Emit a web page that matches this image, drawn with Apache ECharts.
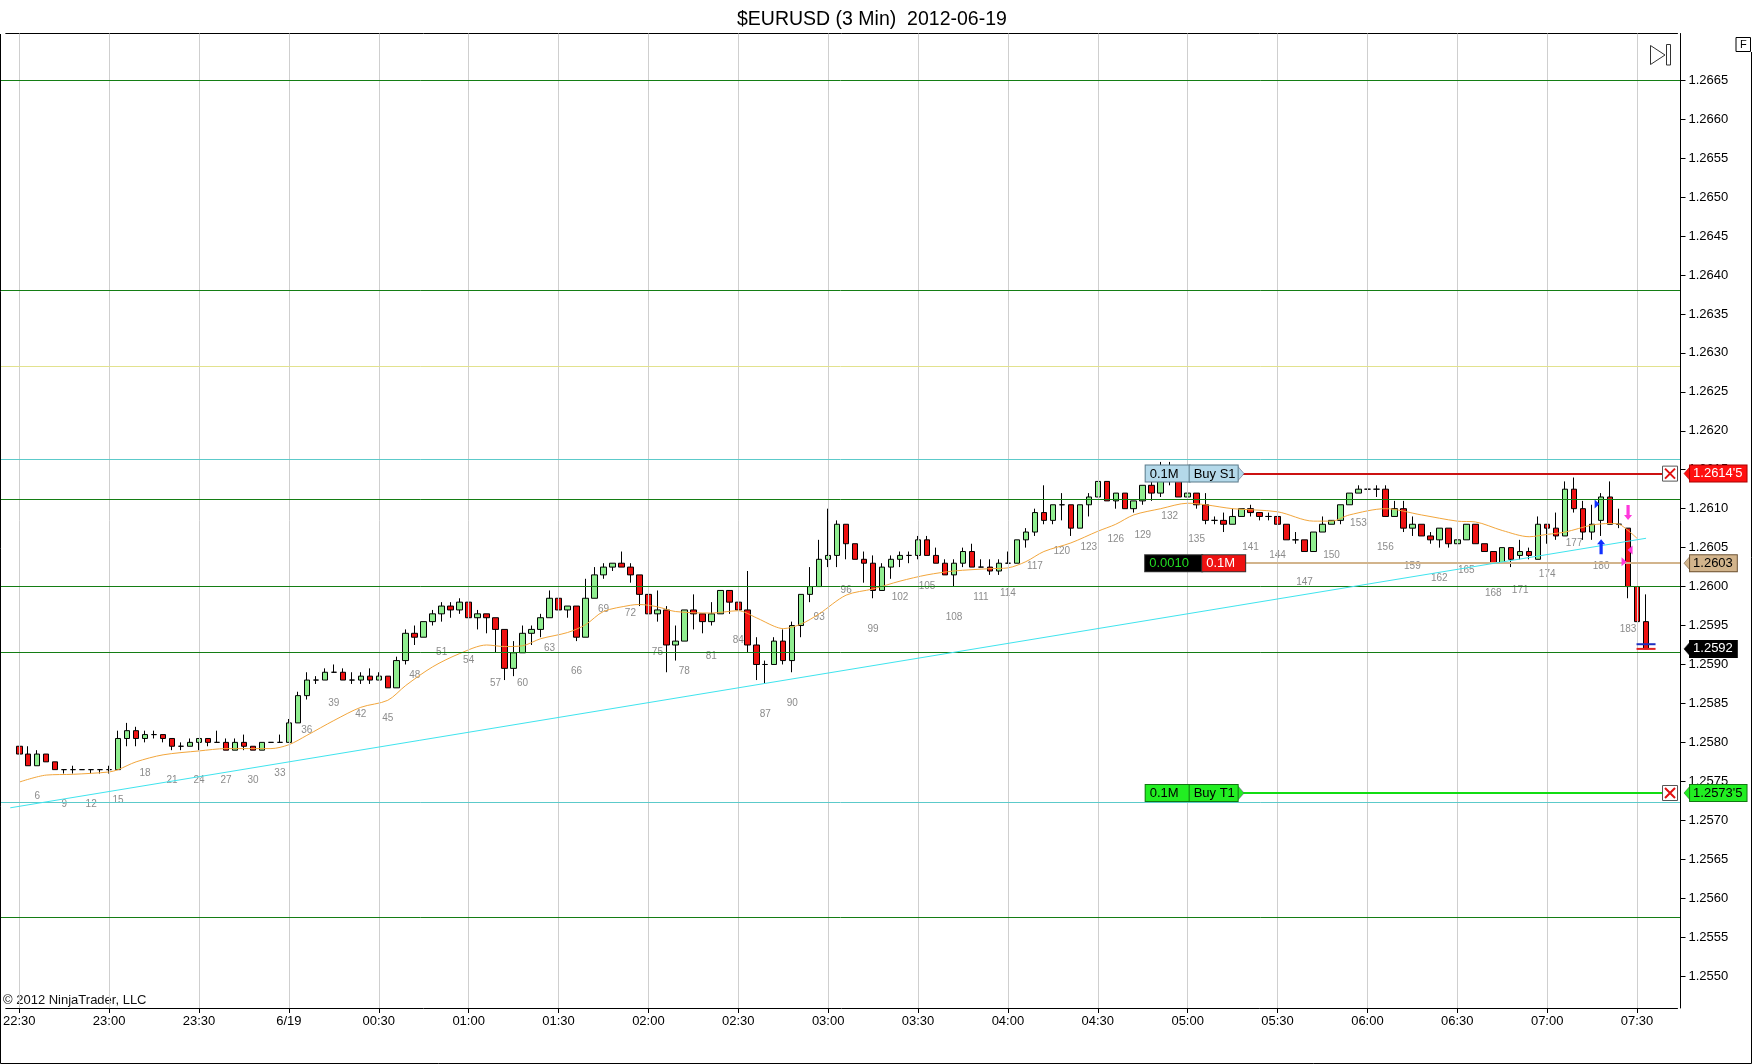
<!DOCTYPE html>
<html><head><meta charset="utf-8">
<script src="https://cdn.jsdelivr.net/npm/echarts@6/dist/echarts.min.js"></script>
<style>html,body{margin:0;padding:0;background:#fff}#c{width:1752px;height:1064px}</style>
</head><body><div id="c"></div>
<script>
// ---------- DATA ----------
const firstBarNumber = 4;          // bar number of the 22:30 candle
const slotStart = '22:27', slotCount = 186;   // 3-minute slots on the axis
const categories = [];
for (let k = 0; k < slotCount; k++) {
  const m = (22 * 60 + 27 + 3 * k) % 1440;
  categories.push(String(Math.floor(m / 60)).padStart(2, '0') + ':' + String(m % 60).padStart(2, '0'));
}
// OHLC for bars 22:30 ... 07:33
const opens = [1.25795,1.25785,1.2577,1.25785,1.25775,1.25765,1.25765,1.25765,1.25765,1.25765,
1.25765,1.25765,1.25805,1.25815,1.25805,1.2581,1.2581,1.25805,1.25795,1.25795,
1.258,1.25805,1.258,1.258,1.2579,1.258,1.25795,1.2579,1.258,1.258,
1.258,1.25825,1.2586,1.2588,1.2588,1.2589,1.2589,1.2588,1.2588,1.25885,
1.2588,1.25885,1.2587,1.25905,1.2594,1.25935,1.25955,1.25965,1.25975,1.2597,
1.2598,1.2596,1.25965,1.2596,1.25945,1.25895,1.25915,1.2594,1.25945,1.2596,
1.25985,1.2597,1.25975,1.25935,1.25985,1.26015,1.26025,1.2603,1.26025,1.26015,
1.2599,1.25965,1.2597,1.25925,1.2593,1.2597,1.25965,1.25955,1.25965,1.25995,
1.2598,1.2597,1.25925,1.259,1.259,1.2593,1.25905,1.2595,1.2599,1.26,
1.26035,1.2604,1.2608,1.26055,1.26035,1.2603,1.25995,1.26025,1.26035,1.2604,
1.2604,1.2606,1.2604,1.2603,1.26015,1.2603,1.26045,1.26025,1.26025,1.2602,
1.2603,1.2603,1.2606,1.2607,1.26095,1.26085,1.26105,1.26105,1.26075,1.26105,
1.26115,1.26135,1.2611,1.2612,1.261,1.2611,1.2613,1.2612,1.26135,1.2614,
1.26115,1.2612,1.26105,1.26085,1.26085,1.2608,1.2609,1.261,1.26095,1.2609,
1.2609,1.2608,1.2606,1.2606,1.26045,1.2607,1.2608,1.26085,1.26105,1.2612,
1.26125,1.26125,1.26125,1.2609,1.261,1.26075,1.2608,1.26065,1.2606,1.26075,
1.26055,1.2606,1.2608,1.26055,1.26045,1.2603,1.2605,1.2604,1.26045,1.26035,
1.2608,1.26075,1.26065,1.26125,1.261,1.2607,1.26085,1.26115,1.2608,1.26075,
1.26,1.25955];
const highs = [1.25795,1.25795,1.2579,1.25785,1.25775,1.25765,1.2577,1.25765,1.25765,1.25765,
1.2577,1.25815,1.25825,1.2582,1.25815,1.25815,1.2581,1.25805,1.258,1.25805,
1.25805,1.25805,1.25815,1.25805,1.25805,1.2581,1.25795,1.258,1.258,1.2581,
1.2583,1.25865,1.2589,1.25885,1.25895,1.259,1.25895,1.2589,1.2589,1.25895,
1.2589,1.25885,1.2591,1.25945,1.2595,1.25955,1.2597,1.2598,1.2598,1.25985,
1.2598,1.2597,1.25965,1.2596,1.25945,1.2593,1.2595,1.2595,1.25965,1.25995,
1.25985,1.25975,1.25975,1.2601,1.26025,1.2603,1.2603,1.26045,1.2603,1.26015,
1.2599,1.25995,1.25975,1.2595,1.2597,1.2599,1.25965,1.2598,1.25995,1.25995,
1.25985,1.2602,1.25935,1.25905,1.25935,1.25945,1.25955,1.2599,1.26025,1.2606,
1.261,1.26085,1.2608,1.26055,1.26045,1.2604,1.2603,1.2604,1.26045,1.26045,
1.26065,1.26065,1.2605,1.26035,1.26035,1.2605,1.26055,1.26035,1.26035,1.26035,
1.26045,1.2606,1.26075,1.261,1.2613,1.26105,1.2612,1.26105,1.26105,1.2612,
1.26135,1.26135,1.2612,1.2612,1.2611,1.2613,1.26135,1.2616,1.2616,1.2614,
1.2612,1.2612,1.2612,1.2609,1.26095,1.261,1.261,1.26105,1.26095,1.26095,
1.2609,1.2608,1.2607,1.2606,1.2607,1.2609,1.26085,1.26105,1.2612,1.2613,
1.26145,1.2613,1.2613,1.2611,1.2611,1.2609,1.2608,1.2607,1.26075,1.26075,
1.2606,1.2608,1.2608,1.26055,1.26045,1.2605,1.2605,1.2606,1.2605,1.2609,
1.2608,1.26095,1.26135,1.2614,1.2611,1.26105,1.2612,1.26135,1.261,1.26075,
1.26,1.2599];
const lows = [1.25775,1.2577,1.2577,1.25775,1.25765,1.2576,1.2576,1.25765,1.2576,1.2576,
1.2576,1.25765,1.25795,1.25795,1.258,1.25805,1.258,1.2579,1.2579,1.25795,
1.2579,1.25795,1.258,1.2579,1.2579,1.2579,1.2579,1.2579,1.258,1.258,
1.258,1.25825,1.25855,1.25875,1.2588,1.2589,1.2588,1.25875,1.25875,1.25875,
1.2588,1.2587,1.2587,1.259,1.25925,1.25935,1.2595,1.25955,1.2596,1.25965,
1.25945,1.25945,1.2594,1.25915,1.2588,1.25885,1.25915,1.25925,1.25935,1.2596,
1.25965,1.2596,1.2593,1.25935,1.25985,1.2601,1.2602,1.26025,1.26005,1.25975,
1.2596,1.25955,1.2589,1.25905,1.2593,1.25945,1.2594,1.2595,1.25965,1.25965,
1.2597,1.25915,1.2588,1.25875,1.259,1.259,1.2589,1.25935,1.2598,1.26,
1.26025,1.26025,1.26035,1.26035,1.26005,1.25985,1.25995,1.2601,1.26025,1.2603,
1.26035,1.2604,1.2603,1.26015,1.26,1.26025,1.26025,1.26025,1.26015,1.26015,
1.2603,1.2603,1.2605,1.26065,1.2608,1.2608,1.26085,1.26065,1.26075,1.2609,
1.26115,1.2611,1.261,1.261,1.26095,1.26105,1.2611,1.26115,1.2613,1.26115,
1.26115,1.261,1.2608,1.2608,1.2607,1.2608,1.2609,1.2609,1.26085,1.26085,
1.2608,1.2606,1.26055,1.26045,1.26045,1.2607,1.2608,1.2608,1.26105,1.2612,
1.26105,1.26115,1.2609,1.2609,1.2607,1.26065,1.26065,1.26055,1.2605,1.2605,
1.26045,1.2606,1.26055,1.26045,1.2603,1.2603,1.26025,1.26035,1.26035,1.26035,
1.26055,1.2606,1.26065,1.26095,1.2606,1.2606,1.26065,1.2608,1.26075,1.25985,
1.25955,1.2592];
const closes = [1.25785,1.2577,1.25785,1.25775,1.25765,1.25765,1.25765,1.25765,1.25765,1.25765,
1.25765,1.25805,1.25815,1.25805,1.2581,1.2581,1.25805,1.25795,1.25795,1.258,
1.25805,1.258,1.258,1.2579,1.258,1.25795,1.2579,1.258,1.258,1.258,
1.25825,1.2586,1.2588,1.2588,1.2589,1.2589,1.2588,1.2588,1.25885,1.2588,
1.25885,1.2587,1.25905,1.2594,1.25935,1.25955,1.25965,1.25975,1.2597,1.2598,
1.2596,1.25965,1.2596,1.25945,1.25895,1.25915,1.2594,1.25945,1.2596,1.25985,
1.2597,1.25975,1.25935,1.25985,1.26015,1.26025,1.2603,1.26025,1.26015,1.2599,
1.25965,1.2597,1.25925,1.2593,1.2597,1.25965,1.25955,1.25965,1.25995,1.2598,
1.2597,1.25925,1.259,1.259,1.2593,1.25905,1.2595,1.2599,1.26,1.26035,
1.2604,1.2608,1.26055,1.26035,1.2603,1.25995,1.26025,1.26035,1.2604,1.2604,
1.2606,1.2604,1.2603,1.26015,1.2603,1.26045,1.26025,1.26025,1.2602,1.2603,
1.2603,1.2606,1.2607,1.26095,1.26085,1.26105,1.26105,1.26075,1.26105,1.26115,
1.26135,1.2611,1.2612,1.261,1.2611,1.2613,1.2612,1.26135,1.2614,1.26115,
1.2612,1.26105,1.26085,1.26085,1.2608,1.2609,1.261,1.26095,1.2609,1.2609,
1.2608,1.2606,1.2606,1.26045,1.2607,1.2608,1.26085,1.26105,1.2612,1.26125,
1.26125,1.26125,1.2609,1.261,1.26075,1.2608,1.26065,1.2606,1.26075,1.26055,
1.2606,1.2608,1.26055,1.26045,1.2603,1.2605,1.26035,1.26045,1.2604,1.2608,
1.26075,1.26065,1.26125,1.261,1.2607,1.2608,1.26115,1.2608,1.2608,1.26,
1.25955,1.2592];
// moving average (orange), read at sample bars
const maTimes = ['22:30','22:39','22:48','23:00','23:03','23:09','23:18','23:30','23:39','23:54','00:00','00:06','00:15','00:24','00:33','00:39','00:48','00:57','01:06','01:12','01:18','01:24','01:33','01:39','01:45','01:54','01:57','02:03','02:09','02:21','02:30','02:36','02:42','02:45','02:51','02:57','03:06','03:15','03:24','03:33','03:42','03:54','04:00','04:06','04:12','04:21','04:30','04:36','04:42','04:51','05:00','05:06','05:15','05:30','05:42','05:48','05:54','06:06','06:18','06:30','06:36','06:45','06:54','07:00','07:06','07:15','07:21','07:24','07:27','07:30'];
const maValues = [1.25749,1.25758,1.25759,1.25762,1.25765,1.25775,1.25784,1.25789,1.25792,1.25792,1.25797,1.25809,1.25828,1.25845,1.25854,1.25873,1.25897,1.25914,1.25925,1.25923,1.25924,1.25933,1.25941,1.25951,1.25968,1.25976,1.25977,1.25974,1.25968,1.25966,1.25969,1.2596,1.25949,1.25946,1.25952,1.25965,1.25989,1.25997,1.26007,1.26015,1.2602,1.26023,1.26024,1.26032,1.26045,1.26056,1.26071,1.2608,1.26092,1.261,1.26107,1.26105,1.261,1.26096,1.26084,1.26084,1.26092,1.261,1.26092,1.26084,1.26083,1.26072,1.26064,1.26067,1.2607,1.26079,1.26081,1.2608,1.26072,1.26062];
// horizontal levels
const levelPrices = [1.2665, 1.2638, 1.26283, 1.26163, 1.26112, 1.2600, 1.25916, 1.25723, 1.25575];
const levelKinds  = ['pivot','pivot','mid','range','pivot','pivot','pivot','range','pivot'];
// trend line
const trendTimes = ['22:27', '07:33'];
const trendValues = [1.25716, 1.26062];
// orders
const orderPrices = [1.26145, 1.2603, 1.25735];
const orderTags = ["1.2614'5", '1.2603', "1.2573'5"];
const orderTextA = ['0.1M', '0.0010', '0.1M'];
const orderTextB = ['Buy S1', '0.1M', 'Buy T1'];
const lastPrice = 1.2592, lastTag = '1.2592';
const orderStart = '05:18', orderLabelAt = '05:00', orderEnd = '07:39', tagAt = '07:42';
// trade markers
const execPrices = [1.25926, 1.2592];
const arrowUp = ['07:18', 1.26051], arrowDown = ['07:27', 1.26095];
// y tick labels
const yTicks = [1.2550,1.2555,1.2560,1.2565,1.2570,1.2575,1.2580,1.2585,1.2590,1.2595,1.2600,1.2605,1.2610,1.2615,1.2620,1.2625,1.2630,1.2635,1.2640,1.2645,1.2650,1.2655,1.2660,1.2665];

// ---------- BUILD ----------
const FONT = "'Liberation Sans', Arial, sans-serif";
const PLOT_LEFT = 1, PLOT_RIGHT = 1680;   // frame edges (px) for full-width level lines
const isMajor = t => t.endsWith(':00') || t.endsWith(':30');
const candleData = categories.map((t, i) => {
  const j = i - 1;
  if (j < 0 || j >= opens.length) return ['-', '-', '-', '-'];
  return [opens[j], closes[j], lows[j], highs[j]];
});
const labelData = [];
opens.forEach((o, j) => { const n = j + firstBarNumber; if (n % 3 === 0) labelData.push([categories[j + 1], lows[j], n]); });
const maData = maTimes.map((t, i) => [t, maValues[i]]);
const levelColor = { pivot: '#147d14', mid: '#e2e28e', range: '#5ccaca' };

const gridMarks = categories.filter(isMajor).map(t => ({ xAxis: t, lineStyle: { color: '#cfcfcf', width: 1, type: 'solid' } }));
const lastCat = categories[categories.length - 1];
const levelMarks = levelPrices.map((p, i) => [
  { coord: [categories[0], p], x: PLOT_LEFT, lineStyle: { color: levelColor[levelKinds[i]], width: 1, type: 'solid' } },
  { coord: [lastCat, p], x: PLOT_RIGHT }
]);

const orderColors = ['#cc1111', '#d2b48c', '#11dd11'];
const orderLines = orderPrices.map((p, i) => [
  { coord: [orderStart, p], lineStyle: { color: orderColors[i], width: 2, type: 'solid' } },
  i === 1 ? { coord: [tagAt, p], x: PLOT_RIGHT } : { coord: [orderEnd, p] }
]);
const trendLine = [{ coord: [trendTimes[0], trendValues[0]], lineStyle: { color: '#3fe4ee', width: 1, type: 'solid' } },
                   { coord: [trendTimes[1], trendValues[1]] }];

function boxStyle(bg, fg, w, border) {
  return { backgroundColor: bg, color: fg, width: w, padding: [2, 4, 1, 4], borderColor: border, borderWidth: 1,
           fontSize: 13, fontFamily: FONT, align: 'left', lineHeight: 13 };
}
const boxCfg = [
  { a: boxStyle('#b4d9ea', '#000', 36, '#5a7a8a'), b: boxStyle('#b4d9ea', '#000', 40, '#5a7a8a'), dx: 4, arrow: '#b4d9ea' },
  { a: boxStyle('#000', '#22dd22', 49, '#333'), b: boxStyle('#ee1111', '#fff', 35, '#333'), dx: 7.5, arrow: null },
  { a: boxStyle('#22ee22', '#000', 36, '#117711'), b: boxStyle('#22ee22', '#000', 40, '#117711'), dx: 4, arrow: '#22ee22' }
];
const markPoints = [];
orderPrices.forEach((p, i) => {
  const c = boxCfg[i];
  markPoints.push({ coord: [orderLabelAt, p], symbol: 'rect', symbolSize: 0.1, itemStyle: { color: 'rgba(0,0,0,0)' },
    label: { show: true, position: 'inside', offset: [c.dx, 0], formatter: '{a|' + orderTextA[i] + '}{b|' + orderTextB[i] + '}', rich: { a: c.a, b: c.b } } });
  if (c.arrow) markPoints.push({ coord: [orderStart, p], symbol: 'triangle', symbolRotate: -90, symbolSize: [16, 7], symbolOffset: [-1, 0],
    itemStyle: { color: c.arrow, borderColor: '#557', borderWidth: 0.5 }, label: { show: false } });
  if (i !== 1) {
    markPoints.push({ coord: [orderEnd, p], symbol: 'rect', symbolSize: 15, symbolOffset: [6, 0], itemStyle: { color: '#fff', borderColor: '#555', borderWidth: 1 }, label: { show: false } });
    markPoints.push({ coord: [orderEnd, p], symbol: 'path://M0,0L10,10M10,0L0,10', symbolSize: 10, symbolOffset: [6, 0], itemStyle: { color: 'rgba(0,0,0,0)', borderColor: '#e01010', borderWidth: 2 }, label: { show: false } });
  }
});
const tagStyles = [
  { bg: '#ff1010', fg: '#fff', bd: '#aa0000' },
  { bg: '#d2b48c', fg: '#000', bd: '#6b5030' },
  { bg: '#22ee22', fg: '#000', bd: '#117711' }
];
function addTag(p, text, st) {
  markPoints.push({ coord: [tagAt, p], symbol: 'triangle', symbolRotate: 90, symbolSize: [16, 7], symbolOffset: [14.5, 0],
    itemStyle: { color: st.bg, borderColor: st.bd, borderWidth: 0.5 }, label: { show: false } });
  markPoints.push({ coord: [tagAt, p], symbol: 'rect', symbolSize: 0.1, itemStyle: { color: 'rgba(0,0,0,0)' },
    label: { show: true, position: 'right', distance: 17, formatter: text, backgroundColor: st.bg, color: st.fg, borderColor: st.bd, borderWidth: 1,
      padding: [2, 4, 1, 3], fontSize: 13, fontFamily: FONT, lineHeight: 13 } });
}
orderPrices.forEach((p, i) => addTag(p, orderTags[i], tagStyles[i]));
addTag(lastPrice, lastTag, { bg: '#000', fg: '#fff', bd: '#000' });
// trade markers
markPoints.push({ coord: ['07:33', execPrices[0]], symbol: 'rect', symbolSize: [19, 2], itemStyle: { color: '#2030c0' }, label: { show: false } });
markPoints.push({ coord: ['07:33', execPrices[1]], symbol: 'rect', symbolSize: [19, 2], itemStyle: { color: '#e02020' }, label: { show: false } });
const arrowPath = 'path://M4,0L8,5L5.6,5L5.6,15L2.4,15L2.4,5L0,5Z';
markPoints.push({ coord: arrowUp, symbol: arrowPath, symbolSize: [8, 15], itemStyle: { color: '#1030ff' }, label: { show: false } });
markPoints.push({ coord: arrowDown, symbol: arrowPath, symbolRotate: 180, symbolSize: [8, 15], itemStyle: { color: '#ff38dc' }, label: { show: false } });
markPoints.push({ coord: ['07:18', 1.26106], symbol: 'triangle', symbolRotate: -90, symbolSize: [9, 5], symbolOffset: [-4, 0], itemStyle: { color: '#1030ff' }, label: { show: false } });
markPoints.push({ coord: ['07:27', 1.26047], symbol: 'triangle', symbolRotate: 90, symbolSize: [9, 5], symbolOffset: [2, 0], itemStyle: { color: '#ff38dc' }, label: { show: false } });
markPoints.push({ coord: ['07:27', 1.26032], symbol: 'triangle', symbolRotate: -90, symbolSize: [9, 5], symbolOffset: [-4, 0], itemStyle: { color: '#ff38dc' }, label: { show: false } });

const chart = echarts.init(document.getElementById('c'), null, { renderer: 'canvas' });
chart.setOption({
  animation: false,
  backgroundColor: '#fff',
  textStyle: { fontFamily: FONT },
  title: { text: '$EURUSD (3 Min)  2012-06-19', left: 732, top: 5,
    textStyle: { fontSize: 19.5, fontWeight: 'normal', color: '#000', fontFamily: FONT } },
  grid: { left: 1.8, right: 74.5, top: 33.5, bottom: 56, containLabel: false },
  xAxis: [
    { type: 'category', data: categories, boundaryGap: true, position: 'bottom',
      axisLine: { show: true, lineStyle: { color: '#000', width: 1 } },
      axisTick: { show: true, alignWithLabel: true, interval: (i, v) => isMajor(v), length: 5, lineStyle: { color: '#000' } },
      axisLabel: { interval: (i, v) => isMajor(v), formatter: v => (v === '00:00' ? '6/19' : v), color: '#000', fontSize: 13, fontFamily: FONT, margin: 7 },
      splitLine: { show: false } },
    { type: 'category', data: categories, boundaryGap: true, position: 'top',
      axisLine: { show: true, lineStyle: { color: '#000', width: 1 } }, axisTick: { show: false }, axisLabel: { show: false }, splitLine: { show: false } }
  ],
  yAxis: [{ type: 'value', position: 'right', min: 1.25459, max: 1.2671, offset: 3,
    axisLine: { show: true, lineStyle: { color: '#000', width: 1 } }, splitLine: { show: false },
    axisTick: { show: true, length: 5, lineStyle: { color: '#000' }, customValues: yTicks },
    axisLabel: { customValues: yTicks, formatter: v => Number(v).toFixed(4), color: '#000', fontSize: 13, fontFamily: FONT, margin: 8 } }],
  series: [
    { name: 'MA', type: 'line', data: maData, showSymbol: false, smooth: 0.3, silent: true,
      lineStyle: { color: '#f2a63c', width: 1 },
      markLine: { silent: true, precision: 6, symbol: ['none', 'none'], label: { show: false }, animation: false, data: gridMarks.concat(levelMarks) } },
    { name: 'EURUSD', type: 'candlestick', data: candleData, barWidth: 6, silent: true,
      itemStyle: { color: '#90ee90', color0: '#ee1111', borderColor: '#000', borderColor0: '#000', borderWidth: 1 } },
    { name: 'bars', type: 'scatter', data: labelData, symbolSize: 1, silent: true, itemStyle: { color: 'rgba(0,0,0,0)' },
      label: { show: true, position: 'bottom', distance: 25, formatter: p => p.value[2], color: '#6e6e6e', fontSize: 10, fontFamily: FONT },
      markLine: { silent: true, precision: 6, symbol: ['none', 'none'], label: { show: false }, animation: false, data: orderLines.concat([trendLine]) },
      markPoint: { silent: true, animation: false, label: { show: false }, data: markPoints } }
  ],
  graphic: [
    { type: 'polyline', shape: { points: [[0.5, 34], [0.5, 1063.5], [1751.5, 1063.5], [1751.5, 52]] }, style: { stroke: '#000', fill: null, lineWidth: 1 }, silent: true },
    { type: 'rect', shape: { x: 1736, y: 37.5, width: 14.5, height: 14 }, style: { stroke: '#000', fill: '#fff', lineWidth: 1 }, silent: true },
    { type: 'text', x: 1743.3, y: 44.7, style: { text: 'F', font: '11px ' + FONT, fill: '#000', align: 'center', verticalAlign: 'middle' }, silent: true },
    { type: 'polygon', shape: { points: [[1650.5, 45.5], [1665, 55], [1650.5, 64.5]] }, style: { stroke: '#333', fill: null, lineWidth: 1 }, silent: true },
    { type: 'rect', shape: { x: 1666.5, y: 44.5, width: 4, height: 20.5 }, style: { stroke: '#333', fill: null, lineWidth: 1 }, silent: true },
    { type: 'text', x: 3, y: 1000, style: { text: '\u00a9 2012 NinjaTrader, LLC', font: '13px ' + FONT, fill: '#111', verticalAlign: 'middle' }, silent: true }
  ]
});
</script></body></html>
